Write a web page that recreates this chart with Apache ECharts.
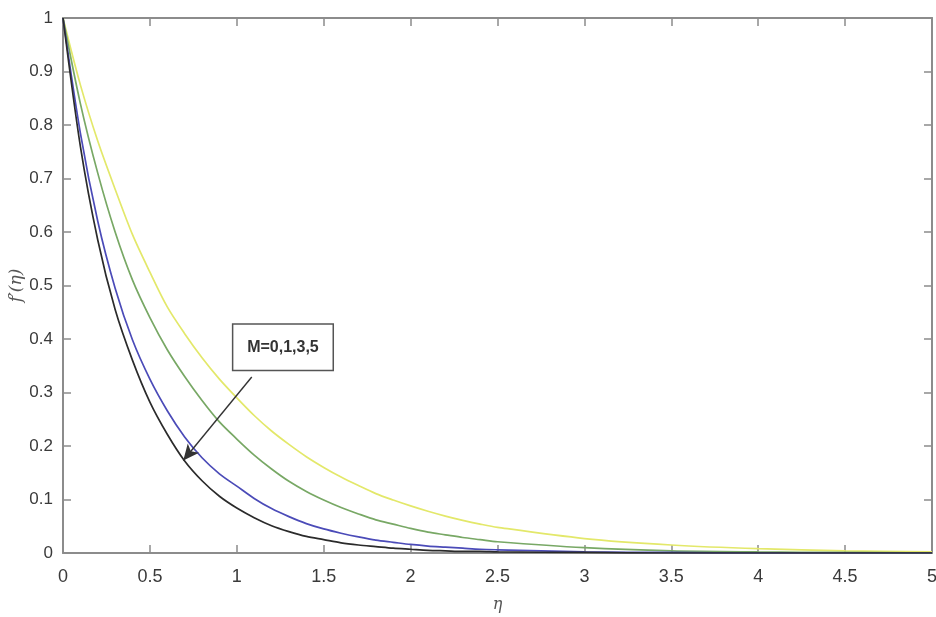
<!DOCTYPE html>
<html>
<head>
<meta charset="utf-8">
<script src="https://cdn.jsdelivr.net/npm/echarts@6/dist/echarts.min.js"></script>
<style>
  html, body { margin: 0; padding: 0; background: #fff; }
  #chart { width: 936px; height: 617px; }
</style>
</head>
<body>
<div id="chart"></div>
<script>
// eta sample points
const eta = [0, 0.1, 0.2, 0.3, 0.4, 0.5, 0.6, 0.7, 0.8, 0.9, 1.0,
  1.1, 1.2, 1.3, 1.4, 1.5, 1.6, 1.7, 1.8, 1.9, 2.0,
  2.1, 2.2, 2.3, 2.4, 2.5, 3.0, 3.5, 4.0, 4.5, 5.0]

// f'(eta) for M = 0, 1, 3, 5 (yellow, green, blue, black)
const curveM0 = [1, 0.875, 0.77, 0.68, 0.595, 0.525, 0.46, 0.41, 0.365, 0.325, 0.29,
  0.257, 0.228, 0.203, 0.18, 0.16, 0.142, 0.126, 0.111, 0.099, 0.088,
  0.078, 0.069, 0.061, 0.054, 0.048, 0.027, 0.015, 0.008, 0.004, 0.002]
const curveM1 = [1, 0.84, 0.71, 0.6, 0.51, 0.44, 0.38, 0.33, 0.285, 0.245, 0.213,
  0.183, 0.157, 0.134, 0.115, 0.099, 0.085, 0.073, 0.062, 0.054, 0.046,
  0.039, 0.034, 0.029, 0.025, 0.021, 0.01, 0.004, 0.002, 0.001, 0]
const curveM3 = [1, 0.785, 0.62, 0.495, 0.398, 0.325, 0.266, 0.217, 0.178, 0.148, 0.125,
  0.102, 0.083, 0.068, 0.055, 0.045, 0.037, 0.03, 0.024, 0.02, 0.016,
  0.013, 0.011, 0.009, 0.007, 0.006, 0.002, 0.001, 0, 0, 0]
const curveM5 = [1, 0.76, 0.585, 0.455, 0.36, 0.282, 0.222, 0.172, 0.135, 0.106, 0.084,
  0.066, 0.051, 0.04, 0.031, 0.025, 0.019, 0.015, 0.012, 0.009, 0.007,
  0.005, 0.004, 0.003, 0.003, 0.002, 0.001, 0, 0, 0, 0]

const xTicks = [0, 0.5, 1, 1.5, 2, 2.5, 3, 3.5, 4, 4.5, 5]
const yTicks = [0, 0.1, 0.2, 0.3, 0.4, 0.5, 0.6, 0.7, 0.8, 0.9, 1]

// annotation, in data units
const noteText = 'M=0,1,3,5'
const noteBox = [[0.976, 0.428], [1.555, 0.341]]
const arrowFrom = [1.086, 0.329]
const arrowTo = [0.692, 0.173]

const pairs = (ys) => eta.map((x, i) => [x, ys[i]])

const font = "'Liberation Sans Narrow', 'Liberation Sans', Arial, sans-serif"
const axisColor = '#8c8c8c'
const labelColor = '#3a3a3a'

const chart = echarts.init(document.getElementById('chart'))

const lineSeries = (name, ys, color) => ({
  name,
  type: 'line',
  data: pairs(ys),
  smooth: 0.3,
  symbol: 'none',
  lineStyle: { color, width: 1.7 },
  z: 3
})

const boxAxis = (extra) => Object.assign({
  type: 'value',
  axisLine: { show: true, onZero: false, lineStyle: { color: axisColor, width: 2 } },
  axisTick: { show: true, inside: true, length: 8, lineStyle: { color: axisColor, width: 1.5 } },
  splitLine: { show: false }
}, extra)

const option = {
  animation: false,
  backgroundColor: '#fff',
  grid: { left: 63, right: 4, top: 18, bottom: 64, outerBoundsMode: 'none' },
  xAxis: [
    boxAxis({
      min: 0,
      max: 5,
      interval: 0.5,
      name: 'η',
      nameLocation: 'middle',
      nameGap: 44,
      nameMoveOverlap: false,
      nameTextStyle: { fontFamily: 'DejaVu Serif', fontStyle: 'italic', fontSize: 16, color: '#555' },
      axisLabel: { fontFamily: font, fontSize: 18, color: labelColor, margin: 15, formatter: v => xTicks.includes(v) ? String(v) : '' }
    }),
    boxAxis({
      position: 'top',
      min: 0,
      max: 5,
      interval: 0.5,
      axisLabel: { show: false }
    })
  ],
  yAxis: [
    boxAxis({
      min: 0,
      max: 1,
      interval: 0.1,
      name: "f′(η)",
      nameLocation: 'middle',
      nameGap: 38,
      nameMoveOverlap: false,
      nameRotate: 90,
      nameTextStyle: { fontFamily: 'DejaVu Serif', fontStyle: 'italic', fontSize: 17, color: '#555' },
      axisLabel: {
        fontFamily: font, fontSize: 17, color: labelColor, margin: 10,
        formatter: v => {
          const t = yTicks.find(y => Math.abs(y - v) < 1e-9)
          return t === undefined ? '' : String(t)
        }
      }
    }),
    boxAxis({
      position: 'right',
      min: 0,
      max: 1,
      interval: 0.1,
      axisLabel: { show: false }
    })
  ],
  series: [
    lineSeries('M=0', curveM0, '#e3e86a'),
    lineSeries('M=1', curveM1, '#78a865'),
    lineSeries('M=3', curveM3, '#4b4bb8'),
    Object.assign(lineSeries('M=5', curveM5, '#2b2b2b'), {
      markLine: {
        silent: true,
        symbol: ['none', 'arrow'],
        symbolSize: [11, 16],
        label: { show: false },
        lineStyle: { color: '#333', width: 1.4, type: 'solid' },
        data: [[{ coord: arrowFrom }, { coord: arrowTo }]]
      }
    })
  ]
}

chart.setOption(option)

// annotation box placed from data coordinates
const p1 = chart.convertToPixel({ xAxisIndex: 0, yAxisIndex: 0 }, noteBox[0])
const p2 = chart.convertToPixel({ xAxisIndex: 0, yAxisIndex: 0 }, noteBox[1])
chart.setOption({
  graphic: [{
    type: 'rect',
    shape: { x: p1[0], y: p1[1], width: p2[0] - p1[0], height: p2[1] - p1[1] },
    style: { fill: '#fff', stroke: '#555', lineWidth: 1.5 },
    z: 10
  }, {
    type: 'text',
    x: (p1[0] + p2[0]) / 2,
    y: (p1[1] + p2[1]) / 2,
    style: {
      text: noteText,
      font: "bold 16px 'Liberation Sans Narrow', 'Liberation Sans', Arial, sans-serif",
      fill: '#333',
      align: 'center',
      verticalAlign: 'middle'
    },
    z: 11
  }]
})

window.addEventListener('resize', () => {
  chart.resize()
})
</script>
</body>
</html>
